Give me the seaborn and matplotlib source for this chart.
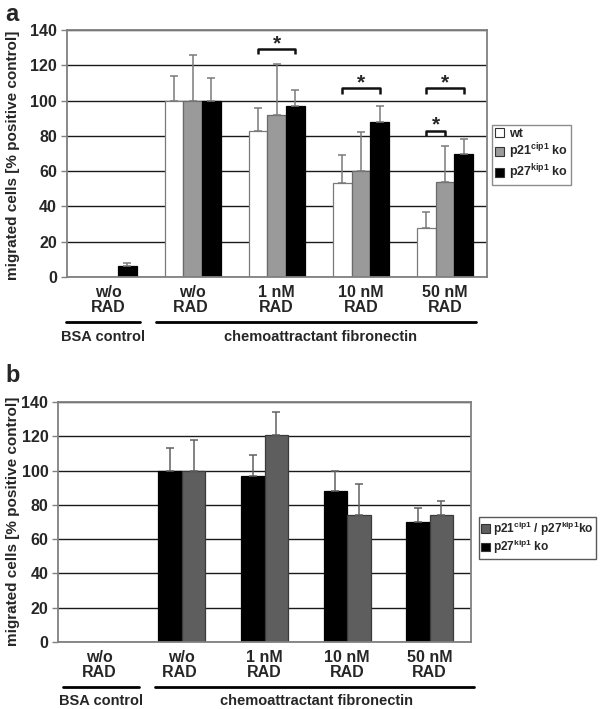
import numpy as np
import pandas as pd
import matplotlib
matplotlib.use("Agg")
import matplotlib.pyplot as plt
import seaborn as sns
from matplotlib.patches import Patch
from matplotlib.lines import Line2D

# ---------------- data ----------------
categories = ["w/o\nRAD", "w/o\nRAD ", "1 nM\nRAD", "10 nM\nRAD", "50 nM\nRAD"]

# panel a
a_series = ["wt", "p21cip1 ko", "p27kip1 ko"]
a_wt = [0, 100, 83, 53, 28]
a_p21 = [0, 100, 92, 60, 54]
a_p27 = [6, 100, 97, 88, 70]
a_wt_err = [0, 14, 13, 16, 9]
a_p21_err = [0, 26, 29, 22, 20]
a_p27_err = [2, 13, 9, 9, 8]

# panel b
b_series = ["p27kip1 ko", "p21cip1 / p27kip1 ko"]
b_p27 = [0, 100, 97, 88, 70]
b_dko = [0, 100, 121, 74, 74]
b_p27_err = [0, 13, 12, 12, 8]
b_dko_err = [0, 18, 13, 18, 8]

# significance brackets (category index, series i, series j, bracket level, star level)
sig = [(2, 0, 2, 129.5, 132), (3, 0, 2, 107, 110), (4, 0, 2, 107, 110), (4, 0, 1, 83, 86)]

group_labels = ["BSA control", "chemoattractant fibronectin"]
y_label = "migrated cells [% positive control]"

# ---------------- style ----------------
sns.set_theme(style="white")
plt.rcParams["font.family"] = ["Liberation Sans", "DejaVu Sans"]
plt.rcParams["font.weight"] = "bold"
plt.rcParams["mathtext.fontset"] = "custom"
plt.rcParams["mathtext.rm"] = "Liberation Sans:bold"
plt.rcParams["mathtext.it"] = "Liberation Sans:bold"
plt.rcParams["mathtext.bf"] = "Liberation Sans:bold"
plt.rcParams["mathtext.default"] = "rm"

W, H = 600, 709
fig = plt.figure(figsize=(6, 7.09), dpi=100)


def fx(px):
    return px / W


def fy(py):
    return 1 - py / H


ax_a = fig.add_axes([fx(66.5), fy(277), fx(487) - fx(66.5), fy(30) - fy(277)])
ax_b = fig.add_axes([fx(58), fy(642), fx(471) - fx(58), fy(402) - fy(642)])


def build_df(series, values):
    rows = []
    for s, vals in zip(series, values):
        for c, v in zip(categories, vals):
            rows.append({"cat": c, "series": s, "value": v})
    return pd.DataFrame(rows)


df_a = build_df(a_series, [a_wt, a_p21, a_p27])
df_b = build_df(b_series, [b_p27, b_dko])

pal_a = {"wt": "#ffffff", "p21cip1 ko": "#9a9a9a", "p27kip1 ko": "#000000"}
edge_a = {"wt": "#7a7a7a", "p21cip1 ko": "#6a6a6a", "p27kip1 ko": "#000000"}
pal_b = {"p27kip1 ko": "#000000", "p21cip1 / p27kip1 ko": "#5e5e5e"}
edge_b = {"p27kip1 ko": "#000000", "p21cip1 / p27kip1 ko": "#3a3a3a"}

sns.barplot(data=df_a, x="cat", y="value", hue="series", order=categories,
            hue_order=a_series, palette=pal_a, errorbar=None, width=0.667,
            gap=0, ax=ax_a, legend=False, saturation=1)
sns.barplot(data=df_b, x="cat", y="value", hue="series", order=categories,
            hue_order=b_series, palette=pal_b, errorbar=None, width=0.57,
            gap=0, ax=ax_b, legend=False, saturation=1)

# edges and error bars
centers_a = {}
for cont, s, vals, errs in zip(ax_a.containers, a_series,
                               [a_wt, a_p21, a_p27],
                               [a_wt_err, a_p21_err, a_p27_err]):
    xs = []
    for p in cont.patches:
        p.set_edgecolor(edge_a[s])
        p.set_linewidth(0.9)
        p.set_zorder(2)
        xs.append(p.get_x() + p.get_width() / 2)
    centers_a[s] = xs
    xs = np.array(xs)
    v = np.array(vals, float)
    e = np.array(errs, float)
    m = e > 0
    ax_a.errorbar(xs[m], v[m], yerr=[np.zeros(m.sum()), e[m]], fmt="none",
                  ecolor="#7a7a7a", elinewidth=1.1, capsize=2.8, capthick=1.1,
                  zorder=3)

for cont, s, vals, errs in zip(ax_b.containers, b_series,
                               [b_p27, b_dko], [b_p27_err, b_dko_err]):
    xs = []
    for p in cont.patches:
        p.set_edgecolor(edge_b[s])
        p.set_linewidth(0.9)
        p.set_zorder(2)
        xs.append(p.get_x() + p.get_width() / 2)
    xs = np.array(xs)
    v = np.array(vals, float)
    e = np.array(errs, float)
    m = e > 0
    ax_b.errorbar(xs[m], v[m], yerr=[np.zeros(m.sum()), e[m]], fmt="none",
                  ecolor="#606060", elinewidth=1.1, capsize=2.8, capthick=1.1,
                  zorder=3)

# significance brackets
for ci, si, sj, lvl, slvl in sig:
    x1 = centers_a[a_series[si]][ci]
    x2 = centers_a[a_series[sj]][ci]
    ax_a.plot([x1, x1, x2, x2], [lvl - 3, lvl, lvl, lvl - 3], color="#111111",
              lw=1.8, zorder=4, solid_capstyle="butt")
    ax_a.text((x1 + x2) / 2, slvl, "*", ha="center", va="center",
              fontsize=15, fontweight="bold", zorder=4)

# axes styling
for ax in (ax_a, ax_b):
    ax.set_ylim(0, 140)
    ax.set_xlim(-0.5, 4.5)
    ax.set_yticks(np.arange(0, 141, 20))
    ax.set_yticklabels([str(v) for v in range(0, 141, 20)], fontsize=11.5,
                       fontweight="bold")
    ax.yaxis.grid(True, color="#1a1a1a", lw=1.0)
    ax.xaxis.grid(False)
    ax.set_axisbelow(True)
    for sp in ax.spines.values():
        sp.set_color("#808080")
        sp.set_linewidth(1.3)
        sp.set_visible(True)
    ax.set_xticks(range(len(categories)))
    ax.set_xticklabels(categories, fontsize=11.5, fontweight="bold",
                       linespacing=1.0)
    ax.tick_params(axis="x", which="major", length=0, pad=6)
    ax.set_xticks(np.arange(0.5, 4.0, 1.0), minor=True)
    ax.tick_params(axis="x", which="minor", length=4, color="#808080",
                   direction="out", width=1)
    ax.tick_params(axis="y", length=4, color="#808080", direction="out",
                   width=1, pad=3, left=True)
    ax.set_xlabel("")
    ax.set_ylabel("")

# y labels
fig.text(fx(13), fy(155), y_label, rotation=90, ha="center", va="center",
         fontsize=11, fontweight="bold")
fig.text(fx(13), fy(521), y_label, rotation=90, ha="center", va="center",
         fontsize=11, fontweight="bold")

# panel letters (mathtext gives a tight glyph box)
fig.text(fx(5), fy(3), r"$\mathbf{a}$", ha="left", va="top", fontsize=17)
fig.text(fx(5), fy(364), r"$\mathbf{b}$", ha="left", va="top", fontsize=17)

# group lines and labels
def group(yline, ytext, segs):
    for (x0, x1, xc), lab in zip(segs, group_labels):
        fig.add_artist(Line2D([fx(x0), fx(x1)], [fy(yline), fy(yline)],
                              color="black", lw=2.0,
                              transform=fig.transFigure))
        fig.text(fx(xc), fy(ytext), lab, ha="center", va="center",
                 fontsize=10.5, fontweight="bold")


group(322, 337, [(66, 140, 103), (156, 476, 320)])
group(687, 701, [(63, 139, 101), (155, 474, 317)])

# legends
h_a = [Patch(facecolor=pal_a[s], edgecolor="#333333", lw=0.8) for s in a_series]
lab_a = ["wt", r"p21$^{\mathrm{cip1}}$ ko", r"p27$^{\mathrm{kip1}}$ ko"]
leg_a = fig.legend(h_a, lab_a, loc="upper left",
                   bbox_to_anchor=(fx(492), fy(125)), fontsize=9,
                   frameon=True, fancybox=False, edgecolor="#707070",
                   handlelength=0.7, handleheight=0.7, handletextpad=0.4,
                   borderpad=0.25, labelspacing=0.12, borderaxespad=0)
leg_a.get_frame().set_linewidth(1.0)

h_b = [Patch(facecolor=pal_b[s], edgecolor="#333333", lw=0.8)
       for s in [b_series[1], b_series[0]]]
lab_b = [r"p21$^{\mathrm{cip1}}$ / p27$^{\mathrm{kip1}}$ko",
         r"p27$^{\mathrm{kip1}}$ ko"]
leg_b = fig.legend(h_b, lab_b, loc="upper left",
                   bbox_to_anchor=(fx(479), fy(517)), fontsize=8.6,
                   frameon=True, fancybox=False, edgecolor="#303030",
                   handlelength=0.7, handleheight=0.7, handletextpad=0.3,
                   borderpad=0.2, labelspacing=0.05, borderaxespad=0)
leg_b.get_frame().set_linewidth(1.0)

fig.savefig("out.png", dpi=100)
